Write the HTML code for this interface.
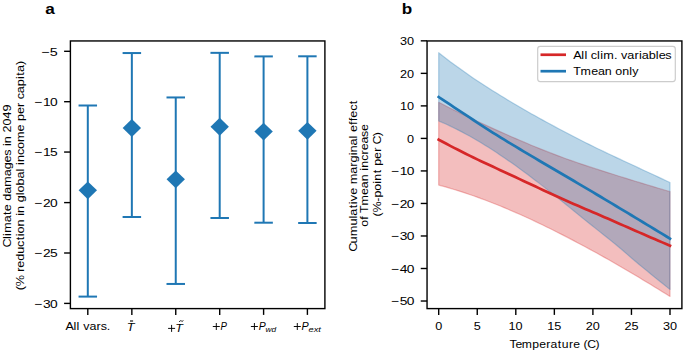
<!DOCTYPE html><html><head><meta charset="utf-8"><style>html,body{margin:0;padding:0;background:#fff;}svg{display:block}text{font-family:"Liberation Sans",sans-serif;fill:#000}</style></head><body>
<svg width="685" height="352" viewBox="0 0 685 352">
<rect width="685" height="352" fill="#fff"/>
<polygon points="438.70,102.26 442.56,104.27 446.41,106.26 450.26,108.22 454.12,110.16 457.97,112.07 461.83,113.96 465.69,115.82 469.54,117.66 473.39,119.48 477.25,121.28 481.11,123.06 484.96,124.84 488.81,126.61 492.67,128.37 496.52,130.12 500.38,131.85 504.24,133.57 508.09,135.27 511.94,136.95 515.80,138.61 519.65,140.27 523.51,141.92 527.37,143.56 531.22,145.18 535.08,146.77 538.93,148.33 542.78,149.87 546.64,151.39 550.50,152.89 554.35,154.37 558.20,155.83 562.06,157.27 565.91,158.69 569.77,160.08 573.62,161.44 577.48,162.78 581.34,164.09 585.19,165.37 589.04,166.64 592.90,167.90 596.75,169.14 600.61,170.37 604.46,171.60 608.32,172.82 612.17,174.05 616.03,175.26 619.88,176.47 623.74,177.67 627.60,178.87 631.45,180.06 635.30,181.24 639.16,182.42 643.01,183.59 646.87,184.76 650.73,185.92 654.58,187.08 658.43,188.24 662.29,189.40 666.14,190.55 670.00,191.70 670.00,296.47 666.14,294.07 662.29,291.69 658.43,289.31 654.58,286.94 650.73,284.58 646.87,282.24 643.01,279.91 639.16,277.60 635.30,275.31 631.45,273.03 627.60,270.75 623.74,268.49 619.88,266.23 616.03,264.00 612.17,261.78 608.32,259.57 604.46,257.39 600.61,255.22 596.75,253.08 592.90,250.96 589.04,248.87 585.19,246.78 581.34,244.71 577.48,242.66 573.62,240.63 569.77,238.61 565.91,236.62 562.06,234.64 558.20,232.68 554.35,230.74 550.50,228.82 546.64,226.93 542.78,225.05 538.93,223.20 535.08,221.37 531.22,219.57 527.37,217.79 523.51,216.03 519.65,214.30 515.80,212.60 511.94,210.93 508.09,209.28 504.24,207.66 500.38,206.07 496.52,204.51 492.67,202.98 488.81,201.48 484.96,200.01 481.11,198.57 477.25,197.17 473.39,195.80 469.54,194.46 465.69,193.16 461.83,191.89 457.97,190.66 454.12,189.47 450.26,188.31 446.41,187.19 442.56,186.11 438.70,185.06" fill="#d62728" fill-opacity="0.3" stroke="#d62728" stroke-opacity="0.3" stroke-width="1.2" stroke-linejoin="round"/>
<polygon points="438.70,52.70 442.56,55.74 446.41,58.73 450.26,61.66 454.12,64.52 457.97,67.34 461.83,70.11 465.69,72.84 469.54,75.52 473.39,78.15 477.25,80.73 481.11,83.27 484.96,85.77 488.81,88.25 492.67,90.69 496.52,93.10 500.38,95.49 504.24,97.85 508.09,100.18 511.94,102.48 515.80,104.76 519.65,107.01 523.51,109.25 527.37,111.46 531.22,113.66 535.08,115.83 538.93,117.99 542.78,120.12 546.64,122.23 550.50,124.33 554.35,126.40 558.20,128.46 562.06,130.50 565.91,132.52 569.77,134.53 573.62,136.53 577.48,138.51 581.34,140.47 585.19,142.42 589.04,144.36 592.90,146.28 596.75,148.18 600.61,150.06 604.46,151.91 608.32,153.74 612.17,155.56 616.03,157.36 619.88,159.16 623.74,160.95 627.60,162.74 631.45,164.54 635.30,166.33 639.16,168.13 643.01,169.92 646.87,171.71 650.73,173.51 654.58,175.30 658.43,177.09 662.29,178.89 666.14,180.69 670.00,182.49 670.00,289.41 666.14,286.39 662.29,283.33 658.43,280.25 654.58,277.13 650.73,273.99 646.87,270.83 643.01,267.65 639.16,264.45 635.30,261.21 631.45,257.93 627.60,254.63 623.74,251.33 619.88,248.05 616.03,244.81 612.17,241.63 608.32,238.51 604.46,235.44 600.61,232.40 596.75,229.36 592.90,226.33 589.04,223.26 585.19,220.15 581.34,217.02 577.48,213.88 573.62,210.74 569.77,207.61 565.91,204.49 562.06,201.38 558.20,198.28 554.35,195.21 550.50,192.15 546.64,189.12 542.78,186.11 538.93,183.12 535.08,180.16 531.22,177.23 527.37,174.33 523.51,171.47 519.65,168.64 515.80,165.85 511.94,163.10 508.09,160.40 504.24,157.74 500.38,155.13 496.52,152.56 492.67,150.05 488.81,147.59 484.96,145.18 481.11,142.82 477.25,140.51 473.39,138.27 469.54,136.08 465.69,133.95 461.83,131.89 457.97,129.90 454.12,127.97 450.26,126.11 446.41,124.33 442.56,122.62 438.70,120.98" fill="#1f77b4" fill-opacity="0.3" stroke="#1f77b4" stroke-opacity="0.3" stroke-width="1.2" stroke-linejoin="round"/>
<polyline points="438.70,139.70 442.56,141.75 446.41,143.79 450.26,145.82 454.12,147.83 457.97,149.82 461.83,151.79 465.69,153.74 469.54,155.65 473.39,157.53 477.25,159.37 481.11,161.18 484.96,162.99 488.81,164.79 492.67,166.59 496.52,168.38 500.38,170.17 504.24,171.96 508.09,173.75 511.94,175.54 515.80,177.33 519.65,179.13 523.51,180.93 527.37,182.73 531.22,184.53 535.08,186.33 538.93,188.13 542.78,189.93 546.64,191.72 550.50,193.51 554.35,195.29 558.20,197.07 562.06,198.83 565.91,200.56 569.77,202.26 573.62,203.95 577.48,205.61 581.34,207.26 585.19,208.91 589.04,210.55 592.90,212.19 596.75,213.84 600.61,215.49 604.46,217.17 608.32,218.85 612.17,220.54 616.03,222.23 619.88,223.92 623.74,225.62 627.60,227.31 631.45,229.00 635.30,230.68 639.16,232.37 643.01,234.04 646.87,235.72 650.73,237.39 654.58,239.06 658.43,240.72 662.29,242.38 666.14,244.04 670.00,245.70" fill="none" stroke="#d62728" stroke-width="2.7" stroke-linecap="square"/>
<polyline points="438.70,97.00 442.56,99.58 446.41,102.16 450.26,104.73 454.12,107.29 457.97,109.84 461.83,112.37 465.69,114.91 469.54,117.45 473.39,120.00 477.25,122.54 481.11,125.07 484.96,127.58 488.81,130.07 492.67,132.53 496.52,134.95 500.38,137.34 504.24,139.70 508.09,142.04 511.94,144.37 515.80,146.69 519.65,149.00 523.51,151.31 527.37,153.61 531.22,155.90 535.08,158.20 538.93,160.49 542.78,162.77 546.64,165.03 550.50,167.28 554.35,169.52 558.20,171.76 562.06,174.00 565.91,176.25 569.77,178.51 573.62,180.78 577.48,183.06 581.34,185.34 585.19,187.62 589.04,189.90 592.90,192.19 596.75,194.48 600.61,196.77 604.46,199.07 608.32,201.37 612.17,203.68 616.03,205.99 619.88,208.31 623.74,210.62 627.60,212.94 631.45,215.26 635.30,217.59 639.16,219.91 643.01,222.24 646.87,224.56 650.73,226.89 654.58,229.23 658.43,231.57 662.29,233.91 666.14,236.25 670.00,238.60" fill="none" stroke="#1f77b4" stroke-width="2.7" stroke-linecap="square"/>
<line x1="87.8" y1="105.5" x2="87.8" y2="296.6" stroke="#1f77b4" stroke-width="2.0"/>
<line x1="78.55" y1="105.5" x2="97.05" y2="105.5" stroke="#1f77b4" stroke-width="2.0"/>
<line x1="78.55" y1="296.6" x2="97.05" y2="296.6" stroke="#1f77b4" stroke-width="2.0"/>
<polygon points="87.8,181.4 97.0,190.3 87.8,199.20000000000002 78.6,190.3" fill="#1f77b4"/>
<line x1="131.85" y1="53.05" x2="131.85" y2="217.0" stroke="#1f77b4" stroke-width="2.0"/>
<line x1="122.6" y1="53.05" x2="141.1" y2="53.05" stroke="#1f77b4" stroke-width="2.0"/>
<line x1="122.6" y1="217.0" x2="141.1" y2="217.0" stroke="#1f77b4" stroke-width="2.0"/>
<polygon points="131.85,119.1 141.04999999999998,128.0 131.85,136.9 122.64999999999999,128.0" fill="#1f77b4"/>
<line x1="175.75" y1="97.45" x2="175.75" y2="283.95" stroke="#1f77b4" stroke-width="2.0"/>
<line x1="166.5" y1="97.45" x2="185.0" y2="97.45" stroke="#1f77b4" stroke-width="2.0"/>
<line x1="166.5" y1="283.95" x2="185.0" y2="283.95" stroke="#1f77b4" stroke-width="2.0"/>
<polygon points="175.75,170.4 184.95,179.3 175.75,188.20000000000002 166.55,179.3" fill="#1f77b4"/>
<line x1="219.7" y1="52.85" x2="219.7" y2="218.0" stroke="#1f77b4" stroke-width="2.0"/>
<line x1="210.45" y1="52.85" x2="228.95" y2="52.85" stroke="#1f77b4" stroke-width="2.0"/>
<line x1="210.45" y1="218.0" x2="228.95" y2="218.0" stroke="#1f77b4" stroke-width="2.0"/>
<polygon points="219.7,117.85 228.89999999999998,126.75 219.7,135.65 210.5,126.75" fill="#1f77b4"/>
<line x1="263.6" y1="56.4" x2="263.6" y2="222.7" stroke="#1f77b4" stroke-width="2.0"/>
<line x1="254.35000000000002" y1="56.4" x2="272.85" y2="56.4" stroke="#1f77b4" stroke-width="2.0"/>
<line x1="254.35000000000002" y1="222.7" x2="272.85" y2="222.7" stroke="#1f77b4" stroke-width="2.0"/>
<polygon points="263.6,122.69999999999999 272.8,131.6 263.6,140.5 254.40000000000003,131.6" fill="#1f77b4"/>
<line x1="307.4" y1="56.3" x2="307.4" y2="223.0" stroke="#1f77b4" stroke-width="2.0"/>
<line x1="298.15" y1="56.3" x2="316.65" y2="56.3" stroke="#1f77b4" stroke-width="2.0"/>
<line x1="298.15" y1="223.0" x2="316.65" y2="223.0" stroke="#1f77b4" stroke-width="2.0"/>
<polygon points="307.4,121.9 316.59999999999997,130.8 307.4,139.70000000000002 298.2,130.8" fill="#1f77b4"/>
<rect x="70.4" y="40.95" width="254.49999999999997" height="267.65000000000003" fill="none" stroke="#000" stroke-width="1.4"/>
<rect x="427.05" y="40.95" width="254.84999999999997" height="267.65000000000003" fill="none" stroke="#000" stroke-width="1.4"/>
<line x1="64.10000000000001" y1="51.3" x2="70.4" y2="51.3" stroke="#000" stroke-width="1.4"/>
<line x1="64.10000000000001" y1="101.7" x2="70.4" y2="101.7" stroke="#000" stroke-width="1.4"/>
<line x1="64.10000000000001" y1="152.05" x2="70.4" y2="152.05" stroke="#000" stroke-width="1.4"/>
<line x1="64.10000000000001" y1="202.6" x2="70.4" y2="202.6" stroke="#000" stroke-width="1.4"/>
<line x1="64.10000000000001" y1="253.0" x2="70.4" y2="253.0" stroke="#000" stroke-width="1.4"/>
<line x1="64.10000000000001" y1="303.4" x2="70.4" y2="303.4" stroke="#000" stroke-width="1.4"/>
<line x1="87.8" y1="308.6" x2="87.8" y2="314.90000000000003" stroke="#000" stroke-width="1.4"/>
<line x1="131.85" y1="308.6" x2="131.85" y2="314.90000000000003" stroke="#000" stroke-width="1.4"/>
<line x1="175.75" y1="308.6" x2="175.75" y2="314.90000000000003" stroke="#000" stroke-width="1.4"/>
<line x1="219.7" y1="308.6" x2="219.7" y2="314.90000000000003" stroke="#000" stroke-width="1.4"/>
<line x1="263.6" y1="308.6" x2="263.6" y2="314.90000000000003" stroke="#000" stroke-width="1.4"/>
<line x1="307.4" y1="308.6" x2="307.4" y2="314.90000000000003" stroke="#000" stroke-width="1.4"/>
<line x1="420.75" y1="40.84" x2="427.05" y2="40.84" stroke="#000" stroke-width="1.4"/>
<line x1="420.75" y1="73.36" x2="427.05" y2="73.36" stroke="#000" stroke-width="1.4"/>
<line x1="420.75" y1="105.89" x2="427.05" y2="105.89" stroke="#000" stroke-width="1.4"/>
<line x1="420.75" y1="138.41" x2="427.05" y2="138.41" stroke="#000" stroke-width="1.4"/>
<line x1="420.75" y1="170.93" x2="427.05" y2="170.93" stroke="#000" stroke-width="1.4"/>
<line x1="420.75" y1="203.46" x2="427.05" y2="203.46" stroke="#000" stroke-width="1.4"/>
<line x1="420.75" y1="235.98" x2="427.05" y2="235.98" stroke="#000" stroke-width="1.4"/>
<line x1="420.75" y1="268.5" x2="427.05" y2="268.5" stroke="#000" stroke-width="1.4"/>
<line x1="420.75" y1="301.02" x2="427.05" y2="301.02" stroke="#000" stroke-width="1.4"/>
<line x1="438.7" y1="308.6" x2="438.7" y2="314.90000000000003" stroke="#000" stroke-width="1.4"/>
<line x1="477.25" y1="308.6" x2="477.25" y2="314.90000000000003" stroke="#000" stroke-width="1.4"/>
<line x1="515.8" y1="308.6" x2="515.8" y2="314.90000000000003" stroke="#000" stroke-width="1.4"/>
<line x1="554.35" y1="308.6" x2="554.35" y2="314.90000000000003" stroke="#000" stroke-width="1.4"/>
<line x1="592.9" y1="308.6" x2="592.9" y2="314.90000000000003" stroke="#000" stroke-width="1.4"/>
<line x1="631.45" y1="308.6" x2="631.45" y2="314.90000000000003" stroke="#000" stroke-width="1.4"/>
<line x1="670.0" y1="308.6" x2="670.0" y2="314.90000000000003" stroke="#000" stroke-width="1.4"/>
<rect x="537.7" y="46.4" width="137.5999999999999" height="35.199999999999996" rx="2.5" ry="2.5" fill="#fff" fill-opacity="0.8" stroke="#cccccc" stroke-width="1.2"/>
<line x1="540.5" y1="54.75" x2="566" y2="54.75" stroke="#d62728" stroke-width="2.7"/>
<line x1="540.5" y1="71.2" x2="566" y2="71.2" stroke="#1f77b4" stroke-width="2.7"/>
<text transform="translate(45.26,13.9) scale(1.1487,1)" x="0.00" y="0" font-size="15.0" font-weight="bold">a</text>
<text transform="translate(401.74,13.9) scale(1.1406,1)" x="0.00" y="0" font-size="15.0" font-weight="bold">b</text>
<text transform="translate(40.98,55.65) scale(1.2339,1)" x="0.37 7.15" y="0" font-size="11.6">−5</text>
<text transform="translate(33.94,106.05) scale(1.1873,1)" x="0.52 7.55 13.49" y="0" font-size="11.6">−10</text>
<text transform="translate(33.94,156.4) scale(1.1873,1)" x="0.52 7.55 13.49" y="0" font-size="11.6">−15</text>
<text transform="translate(33.94,206.95) scale(1.1873,1)" x="0.52 7.55 13.49" y="0" font-size="11.6">−20</text>
<text transform="translate(33.94,257.35) scale(1.1873,1)" x="0.52 7.55 13.49" y="0" font-size="11.6">−25</text>
<text transform="translate(33.94,307.75) scale(1.1873,1)" x="0.52 7.55 13.49" y="0" font-size="11.6">−30</text>
<text transform="translate(400.01,45.14) scale(1.0917,1)" x="-0.00 6.45" y="0" font-size="11.6">30</text>
<text transform="translate(400.01,77.66) scale(1.0917,1)" x="-0.00 6.45" y="0" font-size="11.6">20</text>
<text transform="translate(400.01,110.19) scale(1.0917,1)" x="-0.00 6.45" y="0" font-size="11.6">10</text>
<text transform="translate(407.06,142.71) scale(1.0917,1)" x="-0.00" y="0" font-size="11.6">0</text>
<text transform="translate(390.74,175.23) scale(1.1873,1)" x="0.52 7.55 13.49" y="0" font-size="11.6">−10</text>
<text transform="translate(390.74,207.76) scale(1.1873,1)" x="0.52 7.55 13.49" y="0" font-size="11.6">−20</text>
<text transform="translate(390.74,240.28) scale(1.1873,1)" x="0.52 7.55 13.49" y="0" font-size="11.6">−30</text>
<text transform="translate(390.74,272.8) scale(1.1873,1)" x="0.52 7.55 13.49" y="0" font-size="11.6">−40</text>
<text transform="translate(390.74,305.32) scale(1.1873,1)" x="0.52 7.55 13.49" y="0" font-size="11.6">−50</text>
<text transform="translate(435.19,329.9) scale(1.0917,1)" x="-0.00" y="0" font-size="11.6">0</text>
<text transform="translate(473.79,329.9) scale(1.0917,1)" x="-0.00" y="0" font-size="11.6">5</text>
<text transform="translate(508.52,329.9) scale(1.0917,1)" x="-0.00 6.45" y="0" font-size="11.6">10</text>
<text transform="translate(547.18,329.9) scale(1.0917,1)" x="-0.00 6.45" y="0" font-size="11.6">15</text>
<text transform="translate(585.82,329.9) scale(1.0917,1)" x="-0.00 6.45" y="0" font-size="11.6">20</text>
<text transform="translate(624.48,329.9) scale(1.0917,1)" x="-0.00 6.45" y="0" font-size="11.6">25</text>
<text transform="translate(662.92,329.9) scale(1.0917,1)" x="-0.00 6.45" y="0" font-size="11.6">30</text>
<text transform="translate(509.75,348.4) scale(1.0499,1)" x="-0.32 5.56 11.44 21.53 28.12 34.82 38.93 45.84 49.63 56.44 60.44 66.86 70.27 73.75 81.75" y="0" font-size="11.6">Temperature (C)</text>
<text transform="translate(65.78,330.3) scale(1.0767,1)" x="-0.35 7.17 10.03 12.77 16.16 22.02 28.58 32.41 38.01" y="0" font-size="11.6">All vars.</text>
<text transform="translate(573.63,59.3) scale(1.0907,1)" x="-0.40 7.06 9.88 12.58 15.70 21.51 24.33 27.14 36.92 40.14 43.47 49.26 55.75 59.89 62.47 68.80 75.37 77.97 84.06" y="0" font-size="11.6">All clim. variables</text>
<text transform="translate(573.65,75.0) scale(1.0740,1)" x="-0.39 6.49 16.28 22.61 29.04 35.56 38.73 45.15 51.79 54.66" y="0" font-size="11.6">Tmean only</text>
<text transform="translate(11.1,246.87) rotate(-90) scale(1.0826,1)" x="-0.62 7.27 10.11 12.97 22.69 29.44 32.98 39.37 42.62 49.00 55.51 65.23 71.61 78.00 84.13 89.71 93.08 95.80 102.28 105.55 112.05 118.56 125.07" y="0" font-size="11.6">Climate damages in 2049</text>
<text transform="translate(23.6,290.30) rotate(-90) scale(1.0923,1)" x="0.05 3.61 13.58 16.96 20.75 26.98 33.40 39.73 45.79 49.51 52.08 58.39 64.83 68.17 70.85 77.29 80.50 87.06 89.63 95.95 102.27 108.72 111.42 114.76 117.44 123.76 129.32 135.75 145.41 151.76 154.97 161.30 167.80 171.81 174.92 180.49 186.81 193.37 196.44 199.92 206.30" y="0" font-size="11.6">(% reduction in global income per capita)</text>
<text transform="translate(356.5,251.08) rotate(-90) scale(1.0981,1)" x="-0.67 7.01 13.51 23.22 29.75 32.30 38.98 42.68 45.45 51.21 57.53 60.82 70.43 76.88 80.77 87.22 89.88 96.16 102.59 105.27 108.36 114.85 118.32 121.51 127.70 133.74" y="0" font-size="11.6">Cumulative marginal effect</text>
<text transform="translate(368.3,226.70) rotate(-90) scale(1.0672,1)" x="-0.05 6.56 10.04 12.92 19.85 29.70 36.07 42.54 49.09 52.50 55.29 61.76 67.71 71.62 77.88 84.09 89.65" y="0" font-size="11.6">of Tmean increase</text>
<text transform="translate(380.7,216.46) rotate(-90) scale(1.0749,1)" x="0.08 3.75 13.73 17.56 23.98 30.50 33.26 40.15 43.81 47.10 53.54 60.12 64.19 66.85 74.71" y="0" font-size="11.6">(%-point per C)</text>
<text x="126.75" y="330.8" font-size="11.0" font-style="italic" textLength="7.76" lengthAdjust="spacingAndGlyphs">T</text>
<text x="175.35" y="331.6" font-size="11.0" font-style="italic" textLength="7.6" lengthAdjust="spacingAndGlyphs">T</text>
<text x="220.55" y="330.1" font-size="11.0" font-style="italic" textLength="6.45" lengthAdjust="spacingAndGlyphs">P</text>
<text x="258.65" y="330.1" font-size="11.0" font-style="italic" textLength="6.98" lengthAdjust="spacingAndGlyphs">P</text>
<text x="265.5" y="331.9" font-size="8.0" font-style="italic" textLength="10.59" lengthAdjust="spacingAndGlyphs">wd</text>
<text x="301.45" y="330.1" font-size="11.0" font-style="italic" textLength="7.19" lengthAdjust="spacingAndGlyphs">P</text>
<text x="308.55" y="331.9" font-size="8.0" font-style="italic" textLength="12.41" lengthAdjust="spacingAndGlyphs">ext</text>
<line x1="130.0" y1="321.0" x2="133.1" y2="321.0" stroke="#000" stroke-width="1.1"/>
<path d="M179.2,321.9 C180.0,320.3 181.2,320.6 181.6,321.1 C182.0,321.6 182.7,321.6 183.2,320.4" fill="none" stroke="#000" stroke-width="0.9"/>
<path d="M168.1,328.4H175.1M171.6,324.9V331.9" stroke="#000" stroke-width="0.95" fill="none"/>
<path d="M212.8,326.5H219.8M216.3,323.0V330.0" stroke="#000" stroke-width="0.95" fill="none"/>
<path d="M250.9,326.5H257.9M254.4,323.0V330.0" stroke="#000" stroke-width="0.95" fill="none"/>
<path d="M293.8,326.5H300.8M297.3,323.0V330.0" stroke="#000" stroke-width="0.95" fill="none"/>
</svg></body></html>
